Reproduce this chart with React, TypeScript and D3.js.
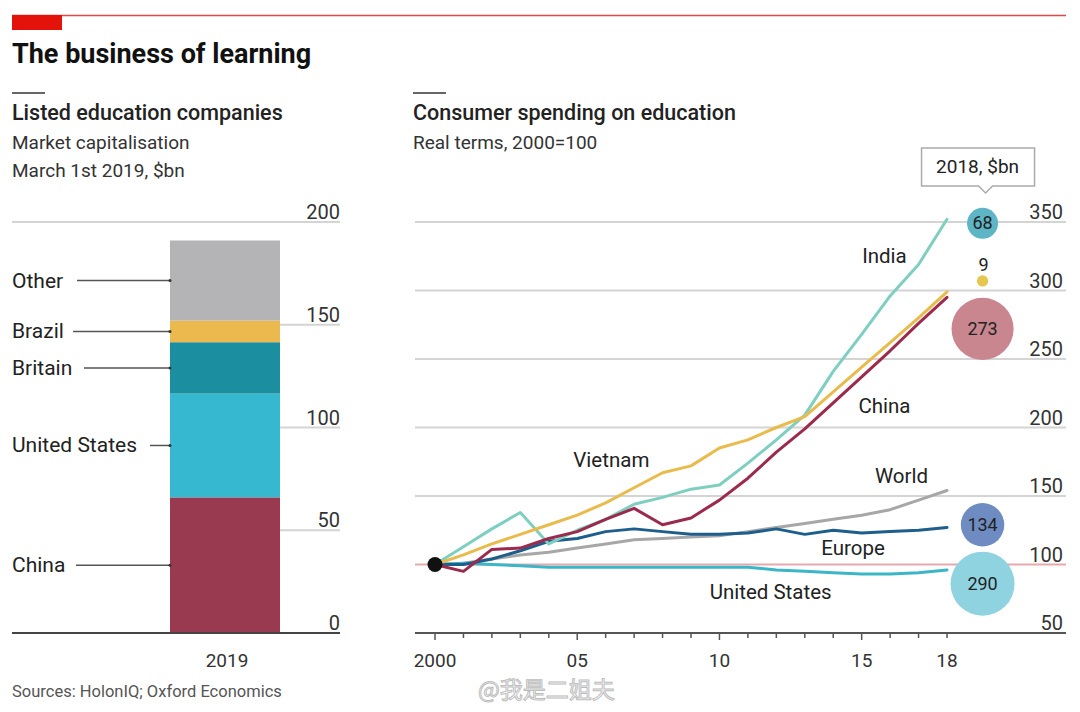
import React from 'react';
import * as d3 from 'd3';

// ---------- Left panel data ----------
const barCategories = ['China', 'United States', 'Britain', 'Brazil', 'Other'];
const barValues = [66, 50.5, 25, 10.5, 39];
const barColors = ['#993a50', '#36b9d0', '#1b8e9f', '#ecb94f', '#b4b4b6'];
const barYear = '2019';
const barTicks = [0, 50, 100, 150, 200];

// ---------- Right panel data ----------
const years = [2000, 2001, 2002, 2003, 2004, 2005, 2006, 2007, 2008, 2009, 2010, 2011, 2012, 2013, 2014, 2015, 2016, 2017, 2018];
const worldValues = [100, 101, 104, 107, 109, 112, 115, 118, 119, 120, 121, 124, 127, 130, 133, 136, 140, 147, 154];
const usValues = [100, 101, 100, 99, 98, 98, 98, 98, 98, 98, 98, 98, 96, 95, 94, 93, 93, 94, 96];
const europeValues = [100, 100, 104, 110, 117, 119, 124, 126, 124, 122, 122, 123, 126, 122, 125, 123, 124, 125, 127];
const indiaValues = [100, 113, 126, 138, 115, 125, 133, 144, 149, 155, 158, 174, 191, 209, 241, 268, 296, 319, 352];
const vietnamValues = [100, 107, 115, 122, 129, 136, 145, 156, 167, 172, 185, 191, 200, 208, 226, 244, 262, 280, 299];
const chinaValues = [100, 95, 111, 112, 119, 124, 133, 141, 129, 134, 147, 163, 182, 199, 218, 237, 256, 276, 295];
const lineNames = ['World', 'United States', 'Europe', 'India', 'Vietnam', 'China'];
const lineColors = ['#a7a7a7', '#3bb6c6', '#1d5e8c', '#7fcfc0', '#e9bb4c', '#9b2a4c'];
const lineTicks = [50, 100, 150, 200, 250, 300, 350];
const xTickLabels = [[2000, '2000'], [2005, '05'], [2010, '10'], [2015, '15'], [2018, '18']] as const;

// 2018 spending, $bn (bubbles)
const bubbleNames = ['India', 'Vietnam', 'China', 'Europe', 'United States'];
const bubbleValues = [68, 9, 273, 134, 290];
const bubbleColors = ['#5db5c5', '#e6c64e', '#c9868f', '#6f8cc2', '#8fd3e0'];
const bubbleAnchor = [349, 307, 272, 129, 86]; // vertical placement in index units

const FONT = 'Roboto, "Noto Sans", sans-serif';

export default function App() {
  // left scales
  const yL = d3.scaleLinear().domain([0, 200]).range([633, 222]);
  const xL = d3.scaleBand<string>().domain([barYear]).range([170, 280]).padding(0);
  const stacks: { name: string; y0: number; y1: number; color: string }[] = [];
  let acc = 0;
  barValues.forEach((v, i) => {
    stacks.push({ name: barCategories[i], y0: acc, y1: acc + v, color: barColors[i] });
    acc += v;
  });
  const labelStart: Record<string, number> = { Other: 77, Brazil: 73, Britain: 84, 'United States': 150, China: 76 };

  // right scales
  const x = d3.scaleLinear().domain([2000, 2018]).range([435, 947]);
  const y = d3.scaleLinear().domain([50, 350]).range([633, 222]);
  const r = d3.scaleSqrt().domain([0, 290]).range([0, 32]);
  const line = d3.line<number>().x((_, i) => x(years[i])).y((d) => y(d)).curve(d3.curveLinear);
  const allSeries = [worldValues, usValues, europeValues, indiaValues, vietnamValues, chinaValues];
  const bx = x(2019.25);

  const lineLabels: [string, number, number][] = [
    ['India', 2015.8, 325],
    ['Vietnam', 2006.2, 176.5],
    ['China', 2015.8, 216],
    ['World', 2016.4, 164.5],
    ['Europe', 2014.7, 112],
    ['United States', 2011.8, 80],
  ];

  return (
    <svg width={1080} height={712} style={{ position: 'absolute', left: 0, top: 0, background: '#fff' }} fontFamily={FONT}>
      <rect x={0} y={0} width={1080} height={712} fill="#fff" />
      {/* header */}
      <line x1={12} x2={1066} y1={15.5} y2={15.5} stroke="#e0474a" strokeWidth={1.5} />
      <rect x={12} y={15} width={50} height={15} fill="#e3120b" />
      <text x={12} y={63} fontSize={27} fontWeight={700} fill="#111">The business of learning</text>

      {/* left panel header */}
      <line x1={12} x2={45} y1={93} y2={93} stroke="#666" strokeWidth={2} />
      <text x={12} y={120} fontSize={21.5} fontWeight={500} fill="#222">Listed education companies</text>
      <text x={12} y={149} fontSize={19} fill="#333">Market capitalisation</text>
      <text x={12} y={177} fontSize={19} fill="#333">March 1st 2019, $bn</text>

      {/* left grid */}
      {barTicks.map((t) => (
        <g key={'lg' + t}>
          {t !== 0 && (
            <line x1={t === 200 ? 12 : xL(barYear)!} x2={340} y1={yL(t)} y2={yL(t)} stroke="#d4d4d4" strokeWidth={2} />
          )}
          <text x={340} y={yL(t) - 3} textAnchor="end" fontSize={20} fill="#333">{t}</text>
        </g>
      ))}
      {stacks.map((s) => (
        <rect key={s.name} x={xL(barYear)!} width={xL.bandwidth()} y={yL(s.y1)} height={yL(s.y0) - yL(s.y1)} fill={s.color} />
      ))}
      <line x1={12} x2={340} y1={yL(0)} y2={yL(0)} stroke="#444" strokeWidth={2} />
      <text x={xL(barYear)! + xL.bandwidth() / 2 + 2} y={667} textAnchor="middle" fontSize={19} fill="#333">{barYear}</text>
      {stacks.map((s) => {
        const my = yL((s.y0 + s.y1) / 2);
        return (
          <g key={'lab' + s.name}>
            <text x={12} y={my + 7} fontSize={21} fill="#222">{s.name}</text>
            <line x1={labelStart[s.name]} x2={xL(barYear)!} y1={my} y2={my} stroke="#555" strokeWidth={1.5} />
            <circle cx={xL(barYear)!} cy={my} r={1.5} fill="#333" />
          </g>
        );
      })}
      <text x={12} y={697} fontSize={16.5} fill="#555">Sources: HolonIQ; Oxford Economics</text>

      {/* right panel header */}
      <line x1={413} x2={446} y1={93} y2={93} stroke="#666" strokeWidth={2} />
      <text x={413} y={120} fontSize={21.5} fontWeight={500} fill="#222">Consumer spending on education</text>
      <text x={413} y={149} fontSize={19} fill="#333">Real terms, 2000=100</text>

      {/* right grid */}
      {lineTicks.map((t) => (
        <g key={'rg' + t}>
          {t !== 50 && (
            <line x1={415} x2={1066} y1={y(t)} y2={y(t)} stroke={t === 100 ? '#e6a9ae' : '#d4d4d4'} strokeWidth={2} />
          )}
          <text x={1063} y={y(t) - 3} textAnchor="end" fontSize={20} fill="#333">{t}</text>
        </g>
      ))}
      <line x1={415} x2={1066} y1={y(50)} y2={y(50)} stroke="#555" strokeWidth={2} />
      {years.map((yr) => (
        <line key={'xt' + yr} x1={x(yr)} x2={x(yr)} y1={y(50)} y2={y(50) + (yr % 5 === 0 ? 7 : 5)} stroke="#555" strokeWidth={1.5} />
      ))}
      {xTickLabels.map(([yr, lab]) => (
        <text key={'xl' + yr} x={x(yr)} y={667} textAnchor="middle" fontSize={19} fill="#333">{lab}</text>
      ))}

      {/* lines */}
      {allSeries.map((s, i) => (
        <path key={lineNames[i]} d={line(s)!} fill="none" stroke={lineColors[i]} strokeWidth={3} strokeLinejoin="round" strokeLinecap="round" />
      ))}
      <circle cx={x(2000)} cy={y(100)} r={7.5} fill="#111" />

      {lineLabels.map(([name, yr, v]) => (
        <text key={'ll' + name} x={x(yr)} y={y(v) + 7} textAnchor="middle" fontSize={20.5} fill="#222">{name}</text>
      ))}

      {/* bubbles */}
      <g>
        <path
          d={`M ${bx - 61} 148 H ${bx + 52} V 186 H ${bx + 10} L ${bx + 3} 193 L ${bx - 4} 186 H ${bx - 61} Z`}
          fill="#fff"
          stroke="#aaa"
          strokeWidth={1.5}
        />
        <text x={bx - 5} y={173} textAnchor="middle" fontSize={19} fill="#222">2018, $bn</text>
        {bubbleValues.map((v, i) => (
          <g key={'b' + bubbleNames[i]}>
            <circle cx={bx} cy={y(bubbleAnchor[i])} r={r(v)} fill={bubbleColors[i]} />
            {v >= 20 ? (
              <text x={bx} y={y(bubbleAnchor[i]) + 6} textAnchor="middle" fontSize={18} fill="#222">{v}</text>
            ) : (
              <text x={bx + 1} y={y(bubbleAnchor[i]) - 10} textAnchor="middle" fontSize={18} fill="#222">{v}</text>
            )}
          </g>
        ))}
      </g>

      {/* watermark */}
      <text x={478} y={698} fontSize={23} fontFamily='"Noto Sans CJK SC", sans-serif' fill="#fff" stroke="#bdbdbd" strokeWidth={1}>@我是二姐夫</text>
    </svg>
  );
}
